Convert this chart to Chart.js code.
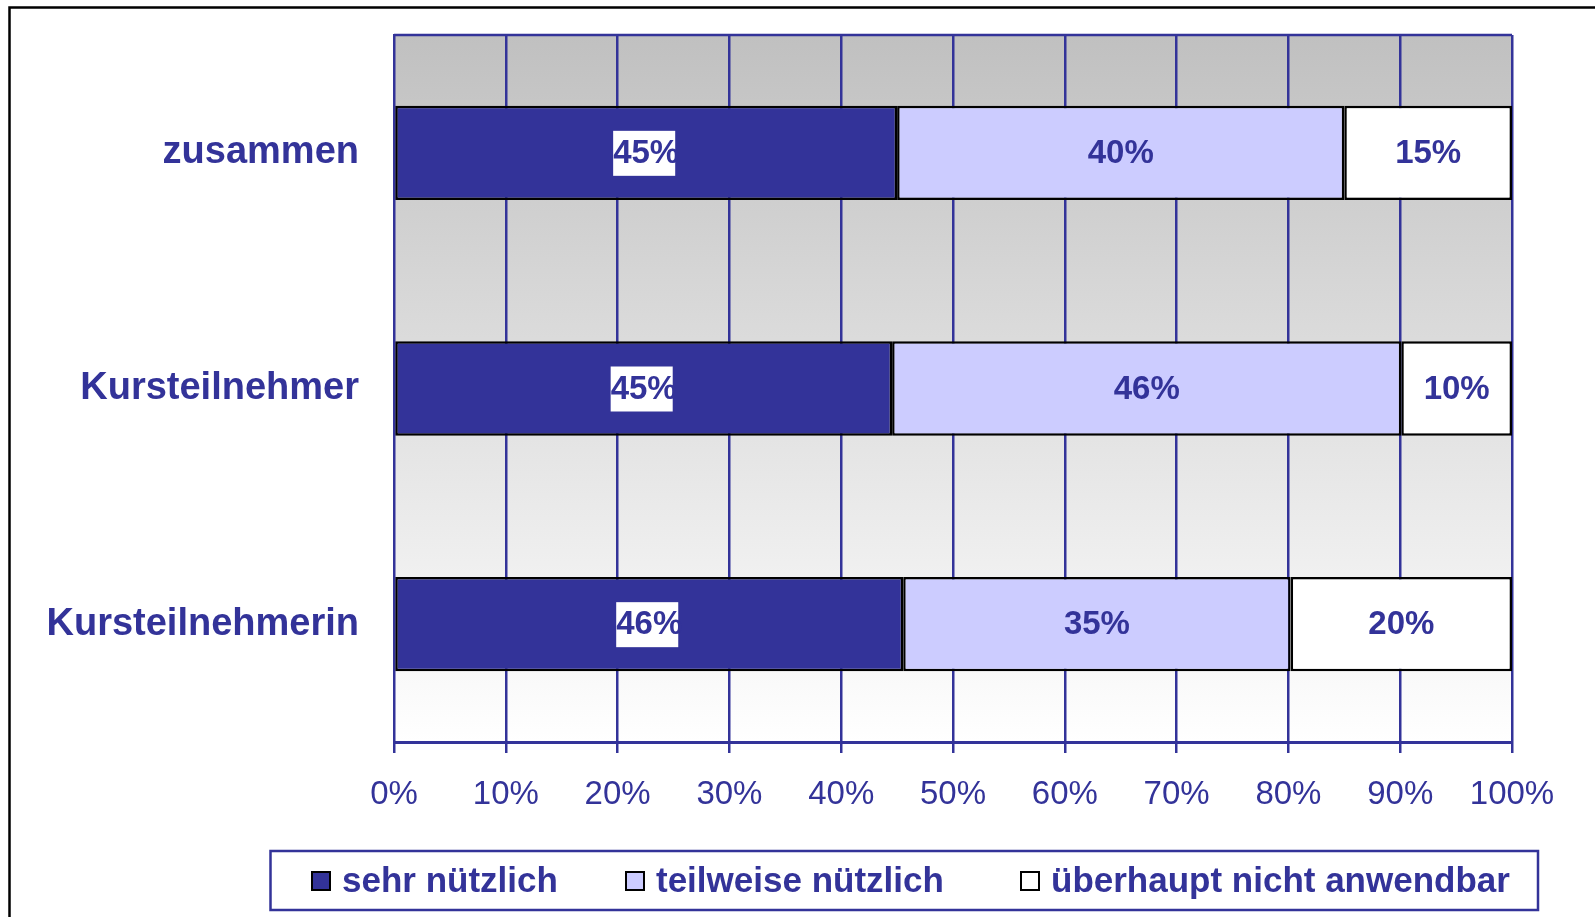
<!DOCTYPE html>
<html>
<head>
<meta charset="utf-8">
<script src="https://cdn.jsdelivr.net/npm/chart.js@4.4.0/dist/chart.umd.min.js"></script>
<style>
  body { margin: 0; background: #fff; }
  #wrap { width: 1595px; height: 917px; }
</style>
</head>
<body>
<div id="wrap"><canvas id="myChart" width="1595" height="917"></canvas></div>
<script>
// values as printed on the bars (Excel 100% stacked, rows are normalized)
const categories = ['zusammen', 'Kursteilnehmer', 'Kursteilnehmerin']
const seriesNames = ['sehr nützlich', 'teilweise nützlich', 'überhaupt nicht anwendbar']
const sehrNuetzlich = [45, 45, 46]
const teilweiseNuetzlich = [40, 46, 35]
const nichtAnwendbar = [15, 10, 20]
const xTicks = [0, 10, 20, 30, 40, 50, 60, 70, 80, 90, 100]

const BLUE = '#333399'
const FONT = "'Liberation Sans', Arial, sans-serif"
const fills = [BLUE, '#ccccff', '#ffffff']
const rows = [sehrNuetzlich, teilweiseNuetzlich, nichtAnwendbar]

// share of each value in its row, in percent
function shares(arr){
  return arr.map(function(v, i){
    var sum = sehrNuetzlich[i] + teilweiseNuetzlich[i] + nichtAnwendbar[i]
    return v / sum * 100
  })
}

var datasets = rows.map(function(r, k){
  return {
    label: seriesNames[k],
    data: shares(r),
    raw: r,
    backgroundColor: fills[k],
    borderColor: '#000',
    borderWidth: 2.5,
    borderSkipped: false,
    barPercentage: 0.4,
    categoryPercentage: 1
  }
})

//frame, plot background and top edge
const backPlugin = {
  id: 'back',
  beforeDraw(chart){
    var ctx = chart.ctx, a = chart.chartArea
    ctx.save()
    ctx.fillStyle = '#fff'
    ctx.fillRect(0, 0, chart.width, chart.height)
    var g = ctx.createLinearGradient(0, a.top, 0, a.bottom)
    g.addColorStop(0, '#c0c0c0')
    g.addColorStop(1, '#ffffff')
    ctx.fillStyle = g
    ctx.fillRect(a.left, a.top, a.right - a.left, a.bottom - a.top)
    ctx.strokeStyle = BLUE
    ctx.lineWidth = 2.5
    ctx.beginPath()
    ctx.moveTo(a.left, a.top)
    ctx.lineTo(a.right, a.top)
    ctx.stroke()
    ctx.strokeStyle = '#000'
    ctx.lineWidth = 2.5
    ctx.strokeRect(9.5, 7.5, 1700, 1000)
    ctx.restore()
  }
}

//value labels on the bars
const labelPlugin = {
  id: 'valueLabels',
  afterDatasetsDraw(chart){
    var ctx = chart.ctx
    ctx.save()
    ctx.font = 'bold 33px ' + FONT
    ctx.textAlign = 'center'
    ctx.textBaseline = 'middle'
    chart.data.datasets.forEach(function(ds, k){
      chart.getDatasetMeta(k).data.forEach(function(bar, i){
        var txt = ds.raw[i] + '%'
        var x = (bar.base + bar.x) / 2
        var y = bar.y
        var w = ctx.measureText(txt).width
        if(k === 0){
          ctx.fillStyle = '#fff'
          ctx.fillRect(x - w / 2, y - 22, w - 4, 45)
        }
        ctx.fillStyle = BLUE
        ctx.fillText(txt, x, y + 1)
      })
    })
    ctx.restore()
  }
}

//legend box at the bottom
const legendPlugin = {
  id: 'boxLegend',
  afterDraw(chart){
    var ctx = chart.ctx
    var starts = [312, 626, 1021]
    var cy = 881
    ctx.save()
    ctx.strokeStyle = BLUE
    ctx.lineWidth = 2.5
    ctx.strokeRect(270.5, 851, 1267.5, 59)
    ctx.font = 'bold 35px ' + FONT
    ctx.textBaseline = 'middle'
    chart.data.datasets.forEach(function(ds, k){
      var x = starts[k]
      ctx.fillStyle = ds.backgroundColor
      ctx.fillRect(x, cy - 9, 18, 18)
      ctx.strokeStyle = '#000'
      ctx.lineWidth = 2
      ctx.strokeRect(x, cy - 9, 18, 18)
      ctx.fillStyle = BLUE
      ctx.fillText(ds.label, x + 30, cy + 1)
    })
    ctx.restore()
  }
}

var ctx = document.getElementById('myChart').getContext('2d')
var myChart = new Chart(ctx, {
  type: 'bar',
  data: { labels: categories, datasets: datasets },
  plugins: [backPlugin, labelPlugin, legendPlugin],
  options: {
    indexAxis: 'y',
    responsive: false,
    animation: false,
    layout: { padding: { top: 35, right: 83, left: 0, bottom: 0 } },
    plugins: { legend: { display: false }, tooltip: { enabled: false } },
    scales: {
      x: {
        stacked: true,
        min: 0,
        max: 100,
        afterBuildTicks: function(s){ s.ticks = xTicks.map(function(v){ return { value: v } }) },
        afterFit: function(s){ s.height = 175; s.paddingLeft = 0; s.paddingRight = 0 },
        ticks: {
          color: BLUE,
          padding: 22,
          font: { family: FONT, size: 33 },
          callback: function(v){ return v + '%' }
        },
        grid: { color: BLUE, lineWidth: 2.5, tickLength: 11 },
        border: { display: true, color: BLUE, width: 3 }
      },
      y: {
        stacked: true,
        afterFit: function(s){ s.width = 394; s.paddingTop = 0; s.paddingBottom = 0 },
        ticks: {
          color: BLUE,
          padding: 35,
          font: { family: FONT, size: 38, weight: 'bold' }
        },
        grid: { display: false, drawTicks: false },
        border: { display: true, color: BLUE, width: 2 }
      }
    }
  }
})
</script>
</body>
</html>
